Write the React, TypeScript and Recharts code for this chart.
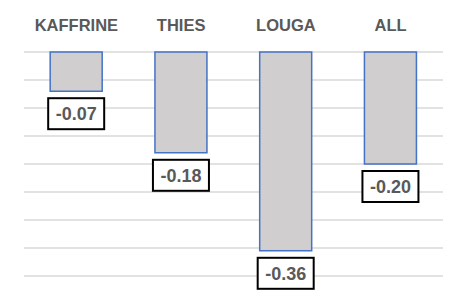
import { BarChart, Bar, XAxis, YAxis, CartesianGrid, LabelList } from 'recharts';

const regions = ['KAFFRINE', 'THIES', 'LOUGA', 'ALL'];
const effects = [-0.07, -0.18, -0.355, -0.2];
const effectLabels = ['-0.07', '-0.18', '-0.36', '-0.20'];
const yTicks = [0, -0.05, -0.1, -0.15, -0.2, -0.25, -0.3, -0.35, -0.4];

const data = regions.map((name, i) => ({ name, value: effects[i], label: effectLabels[i] }));

const FONT = '"Liberation Sans", Arial, sans-serif';

const TopTick = (props: any) => {
    const { x, y, payload } = props;
    return (
        <text x={x} y={y - 13} textAnchor="middle" fill="#595959" fontFamily={FONT} fontSize={16.5} fontWeight={700}>
            {payload.value}
        </text>
    );
};

const BoxLabel = (props: any) => {
    const { x, y, width, height, index } = props;
    const bottom = Math.max(y, y + height);
    const cx = x + width / 2;
    const w = 56;
    const h = 31;
    const top = bottom + 7;
    return (
        <g>
            <rect x={cx - w / 2} y={top} width={w} height={h} fill="#fff" stroke="#000" strokeWidth={2} />
            <text x={cx} y={top + h / 2 + 6.5} textAnchor="middle" fill="#595959" fontFamily={FONT} fontSize={18} fontWeight={700}>
                {data[index].label}
            </text>
        </g>
    );
};

export default function App() {
    return (
        <div style={{ position: 'absolute', left: 0, top: 0, width: 468, height: 300, background: '#fff' }}>
            <BarChart width={468} height={300} data={data} margin={{ top: 22, right: 25, left: 24, bottom: 24 }} barCategoryGap="25%">
                <CartesianGrid vertical={false} stroke="#d9d9d9" strokeWidth={1.5} />
                <XAxis dataKey="name" orientation="top" axisLine={false} tickLine={false} tick={<TopTick />} height={30} />
                <YAxis hide domain={[-0.4, 0]} ticks={yTicks} />
                <Bar dataKey="value" fill="#d0cece" stroke="#4472c4" strokeWidth={1.5} isAnimationActive={false}>
                    <LabelList dataKey="label" content={<BoxLabel />} />
                </Bar>
            </BarChart>
        </div>
    );
}
